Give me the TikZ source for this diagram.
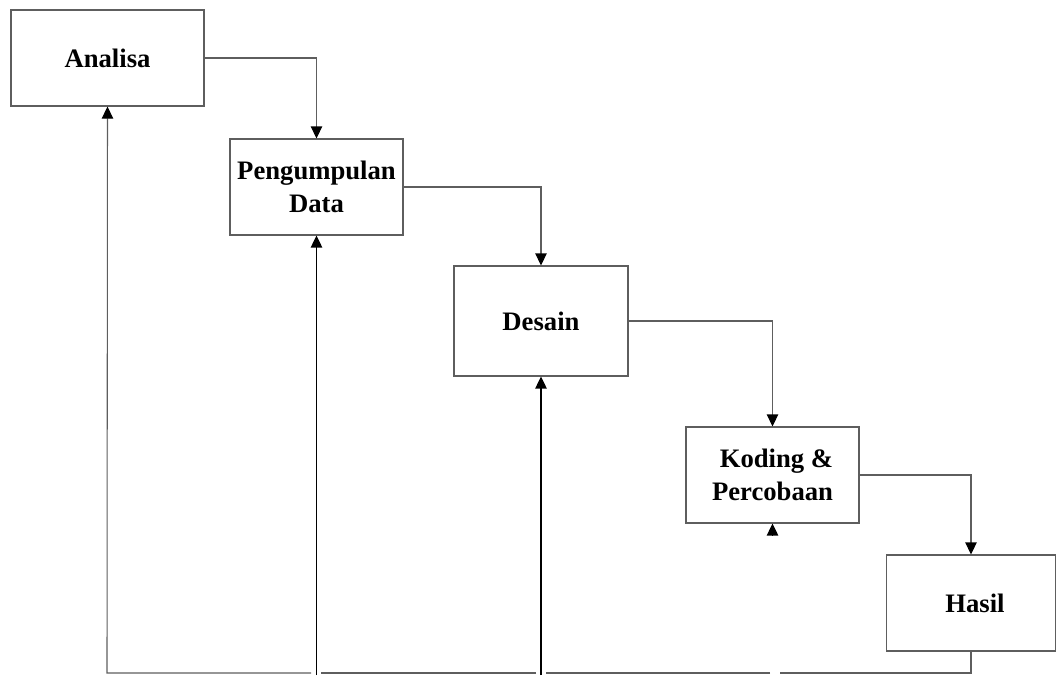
\documentclass[tikz,border=0pt]{standalone}
\usepackage{fontspec}
\setmainfont{Liberation Serif}
\usetikzlibrary{arrows.meta}
\definecolor{linegray}{HTML}{5E5E5E}
\begin{document}
\begin{tikzpicture}[x=0.75pt,y=-0.75pt,
  procbox/.style={draw=linegray,line width=0.8pt,fill=white,inner sep=0pt,
    minimum height=72pt,align=center,font=\fontsize{20}{25}\selectfont\bfseries},
  conn/.style={draw=linegray,line width=0.8pt},
  feed/.style={draw=black,line width=1.1pt},
  tip/.style={-{Triangle[length=9pt,width=8.5pt,color=black]}}]
\useasboundingbox (0,0) rectangle (1056,675);
\node[procbox,minimum width=144.75pt] (ana) at (107.5,58) {Analisa};
\node[procbox,minimum width=129.75pt] (peng) at (316.5,187) {Pengumpulan\\Data};
\node[procbox,minimum width=130.5pt,minimum height=82.5pt] (des) at (541,321) {Desain};
\node[procbox,minimum width=129.75pt] (kod) at (772.5,475) {\hspace*{6pt}Koding \&\\Percobaan};
\node[procbox,minimum width=126.75pt] (has) at (971,603) {\hspace*{6pt}Hasil};
% forward flow
\draw[conn,tip] (ana.east) -| (peng.north);
\draw[conn,tip] (peng.east) -| (des.north);
\draw[conn,tip] (des.east) -| (kod.north);
\draw[conn,tip] (kod.east) -| (has.north);
% return line
\coordinate (c1) at (971,673);
\coordinate (c2) at (780,673);
\coordinate (c3) at (770,673);
\coordinate (c4) at (546,673);
\coordinate (c5) at (536,673);
\coordinate (c6) at (321,673);
\coordinate (c7) at (311,673);
\coordinate (c8) at (107,673);
\draw[conn] (has.south) -- (c1) -- (c2);
\draw[conn] (c3) -- (c4);
\draw[conn] (c5) -- (c6);
\draw[conn,tip] (c7) -- (c8) -- (ana.south);
% black feedback lines
\coordinate (f1) at (316.5,675);
\coordinate (f2) at (541,675);
\coordinate (f3) at (772.5,535);
\draw[feed,tip] (f1) -- (peng.south);
\draw[feed,tip] (f2) -- (des.south);
\draw[feed,tip] (f3) -- (kod.south);
\end{tikzpicture}
\end{document}
